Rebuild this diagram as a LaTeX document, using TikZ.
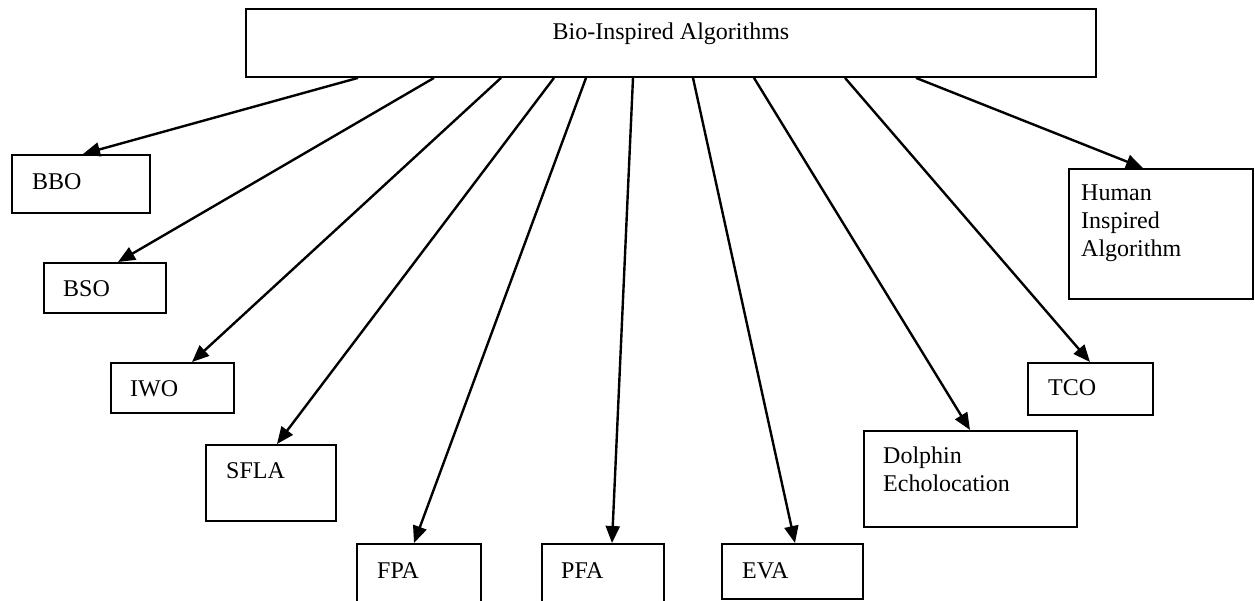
\documentclass[tikz,border=0pt]{standalone}
\usepackage{fontspec}
\setmainfont{Liberation Serif}
\usetikzlibrary{arrows.meta,calc}
\begin{document}
\begin{tikzpicture}[x=1pt,y=-1pt,
  box/.style={draw,line width=1.9pt,anchor=north west,inner sep=0pt},
  lbl/.style={anchor=north west,inner sep=0pt,align=left,font=\fontsize{24}{28}\selectfont},
  conn/.style={line width=2.4pt,-{Triangle[length=17pt,width=14pt]}}]
\path[use as bounding box,fill=white] (0,0) rectangle (1255,600);

% root box, title centred in it
\node[box,minimum width=850,minimum height=68] (top) at (245,8) {};
\node[anchor=north,inner sep=0pt,font=\fontsize{24}{28}\selectfont]
  (title) at ($(top.north)+(0,15)$) {Bio-Inspired Algorithms};

% leaf boxes
\node[box,minimum width=138,minimum height=58] (bbo) at (11,154) {};
\node[lbl] (tbbo) at ($(bbo.north west)+(21,19)$) {BBO};
\node[box,minimum width=122,minimum height=50] (bso) at (43,262) {};
\node[lbl] (tbso) at ($(bso.north west)+(20,18)$) {BSO};
\node[box,minimum width=123,minimum height=50] (iwo) at (110,362) {};
\node[lbl] (tiwo) at ($(iwo.north west)+(20,18)$) {IWO};
\node[box,minimum width=130,minimum height=76] (sfla) at (205,444) {};
\node[lbl] (tsfla) at ($(sfla.north west)+(21,18)$) {SFLA};
\node[box,minimum width=124,minimum height=62] (fpa) at (356,543) {};
\node[lbl] (tfpa) at ($(fpa.north west)+(21,19)$) {FPA};
\node[box,minimum width=122,minimum height=62] (pfa) at (541,543) {};
\node[lbl] (tpfa) at ($(pfa.north west)+(20,19)$) {PFA};
\node[box,minimum width=141,minimum height=55] (eva) at (721,543) {};
\node[lbl] (teva) at ($(eva.north west)+(21,19)$) {EVA};
\node[box,minimum width=213,minimum height=96] (dolphin) at (863,430) {};
\node[lbl] (tdolphin) at ($(dolphin.north west)+(20,17)$) {Dolphin\\Echolocation};
\node[box,minimum width=125,minimum height=52] (tco) at (1027,362) {};
\node[lbl] (ttco) at ($(tco.north west)+(21,17)$) {TCO};
\node[box,minimum width=184,minimum height=130] (human) at (1068,168) {};
\node[lbl] (thuman) at ($(human.north west)+(13,17)$) {Human\\Inspired\\Algorithm};

% connectors from the root to each box
\foreach \dx/\n/\tx in {113/bbo/72, 189/bso/75, 256/iwo/82, 309/sfla/72,
    341/fpa/58, 388/pfa/71, 448/eva/74, 509/dolphin/107, 600/tco/63, 671/human/75}
  \draw[conn] ($(top.south west)+(\dx,0)$) -- ($(\n.north west)+(\tx,0)$);
\end{tikzpicture}
\end{document}
